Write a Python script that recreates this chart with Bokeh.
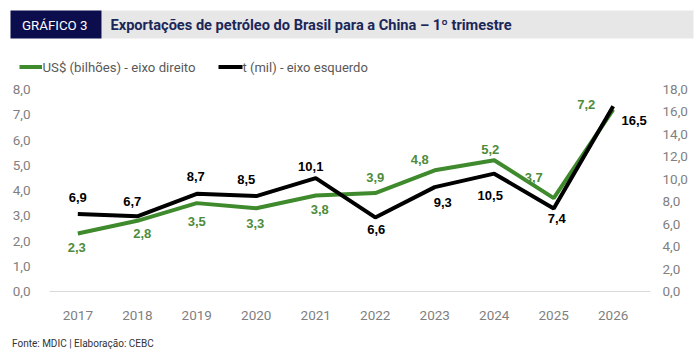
from bokeh.plotting import figure
from bokeh.models import Range1d, LinearAxis, FixedTicker, ColumnDataSource
from bokeh.layouts import column
from bokeh.embed import file_html
from bokeh.resources import INLINE
from bokeh.core.properties import value

# ---------------- data ----------------
years = [2017, 2018, 2019, 2020, 2021, 2022, 2023, 2024, 2025, 2026]
usd_bi = [2.3, 2.8, 3.5, 3.3, 3.8, 3.9, 4.8, 5.2, 3.7, 7.2]
ton_mil = [6.9, 6.7, 8.7, 8.5, 10.1, 6.6, 9.3, 10.5, 7.4, 16.5]
left_ticks = [0, 1, 2, 3, 4, 5, 6, 7, 8]
right_ticks = [0, 2, 4, 6, 8, 10, 12, 14, 16, 18]
title_tag = "GRÁFICO 3"
title_text = "Exportações de petróleo do Brasil para a China – 1º trimestre"
legend_usd = "US$ (bilhões) - eixo direito"
legend_ton = "t (mil) - eixo esquerdo"
source_text = "Fonte: MDIC | Elaboração: CEBC"

# ---------------- styles ----------------
GREEN = "#3f8a2d"
GREEN_LBL = "#4e8c3b"
NAVY_BOX = "#0c0d4d"
NAVY_TXT = "#1b2659"
BAR_GRAY = "#e7e7e7"
TICK_GRAY = "#7f7f7f"
NARROW = "Roboto"
ARIAL = "Liberation Sans"

def fmt(v):
    return ("%.1f" % v).replace(".", ",")

# label placement offsets in screen pixels (dx, dy; dy positive = down)
usd_offsets = [(-1, 14), (5, 13), (0, 18), (-1, 15), (4, 14),
               (0, -16), (-15, -11), (-4, -11), (-20, -21), (-27, -5)]
ton_offsets = [(0, -17), (-5, -15), (-1, -17), (-10, -17), (-5, -12),
               (1, 12), (8, 15), (-4, 22), (3, 10), (21, 14)]


def bare(fig):
    fig.xaxis.visible = False
    fig.yaxis.visible = False
    fig.grid.visible = False
    fig.outline_line_color = None
    fig.background_fill_color = "white"
    fig.border_fill_color = "white"
    return fig

# ---------------- header ----------------
hdr = figure(width=700, height=80, x_range=Range1d(0, 700), y_range=Range1d(80, 0),
             min_border=0, frame_align=False, output_backend="svg", toolbar_location=None)
bare(hdr)
hdr.quad(left=[101], right=[693], top=[10], bottom=[38], fill_color=BAR_GRAY, line_color=None)
hdr.quad(left=[10], right=[101], top=[10], bottom=[38], fill_color=NAVY_BOX, line_color=None)
hdr.text(x=[21.5], y=[24.5], text=[title_tag], text_color="white", text_font=value(NARROW),
         text_font_size="13.3px", text_baseline="middle", text_align="left")
hdr.text(x=[110], y=[24.5], text=[title_text], text_color=NAVY_TXT, text_font=value(NARROW),
         text_font_size="14.6px", text_font_style="bold", text_baseline="middle", text_align="left")
hdr.segment(x0=[19], y0=[66.5], x1=[41.5], y1=[66.5], line_color=GREEN, line_width=4)
hdr.text(x=[42], y=[66.5], text=[legend_usd], text_color="#595959", text_font=value(NARROW),
         text_font_size="13.2px", text_baseline="middle", text_align="left")
hdr.segment(x0=[218], y0=[66.5], x1=[242], y1=[66.5], line_color="black", line_width=4)
hdr.text(x=[242], y=[66.5], text=[legend_ton], text_color="#595959", text_font=value(NARROW),
         text_font_size="13px", text_baseline="middle", text_align="left")

# ---------------- main chart ----------------
p = figure(width=700, height=245, x_range=Range1d(2016.524, 2026.627), y_range=Range1d(0, 8),
           min_border_left=49, min_border_right=50, min_border_top=9, min_border_bottom=34,
           frame_align=False, output_backend="svg", toolbar_location=None)
p.extra_y_ranges = {"right": Range1d(0, 18)}
p.grid.visible = False
p.outline_line_color = None
p.background_fill_color = "white"
p.border_fill_color = "white"

p.xaxis.ticker = FixedTicker(ticks=years)
p.xaxis.major_label_overrides = {y: str(y) for y in years}
p.xaxis.axis_line_color = "#d9d9d9"
p.xaxis.axis_line_width = 1
p.xaxis.major_tick_line_color = None
p.xaxis.minor_tick_line_color = None
p.xaxis.major_label_standoff = 13
p.xaxis.major_label_text_color = TICK_GRAY
p.xaxis.major_label_text_font = NARROW
p.xaxis.major_label_text_font_size = "13.5px"

p.yaxis.ticker = FixedTicker(ticks=left_ticks)
p.yaxis.major_label_overrides = {t: fmt(t) for t in left_ticks}
p.yaxis.axis_line_color = None
p.yaxis.major_tick_line_color = None
p.yaxis.minor_tick_line_color = None
p.yaxis.major_label_standoff = 13
p.yaxis.major_label_text_color = TICK_GRAY
p.yaxis.major_label_text_font = NARROW
p.yaxis.major_label_text_font_size = "13.5px"

rax = LinearAxis(y_range_name="right", ticker=FixedTicker(ticks=right_ticks),
                 major_label_overrides={t: fmt(t) for t in right_ticks})
rax.axis_line_color = None
rax.major_tick_line_color = None
rax.minor_tick_line_color = None
rax.major_label_standoff = 6
rax.major_label_text_color = TICK_GRAY
rax.major_label_text_font = NARROW
rax.major_label_text_font_size = "13.5px"
p.add_layout(rax, "right")

src_usd = ColumnDataSource(dict(
    x=years, y=usd_bi, lbl=[fmt(v) for v in usd_bi],
    dx=[o[0] for o in usd_offsets], dy=[o[1] for o in usd_offsets]))
src_ton = ColumnDataSource(dict(
    x=years, y=ton_mil, lbl=[fmt(v) for v in ton_mil],
    dx=[o[0] for o in ton_offsets], dy=[o[1] for o in ton_offsets]))

p.line("x", "y", source=src_usd, line_color=GREEN, line_width=4)
p.line("x", "y", source=src_ton, line_color="black", line_width=4, y_range_name="right")

p.text("x", "y", text="lbl", source=src_usd, x_offset="dx", y_offset="dy",
       text_color=GREEN_LBL, text_font=value(ARIAL), text_font_style="bold",
       text_font_size="13px", text_align="center", text_baseline="middle")
p.text("x", "y", text="lbl", source=src_ton, x_offset="dx", y_offset="dy",
       y_range_name="right", text_color="black", text_font=value(ARIAL),
       text_font_style="bold", text_font_size="13px", text_align="center",
       text_baseline="middle")

# ---------------- footer ----------------
ftr = figure(width=700, height=27, x_range=Range1d(0, 700), y_range=Range1d(27, 0),
             min_border=0, frame_align=False, output_backend="svg", toolbar_location=None)
bare(ftr)
ftr.text(x=[11.5], y=[18.3], text=[source_text], text_color="#333333", text_font=value(NARROW),
         text_font_size="10px", text_baseline="middle", text_align="left")

layout = column(hdr, p, ftr, spacing=0)
open("out.html", "w").write(file_html(layout, INLINE))
